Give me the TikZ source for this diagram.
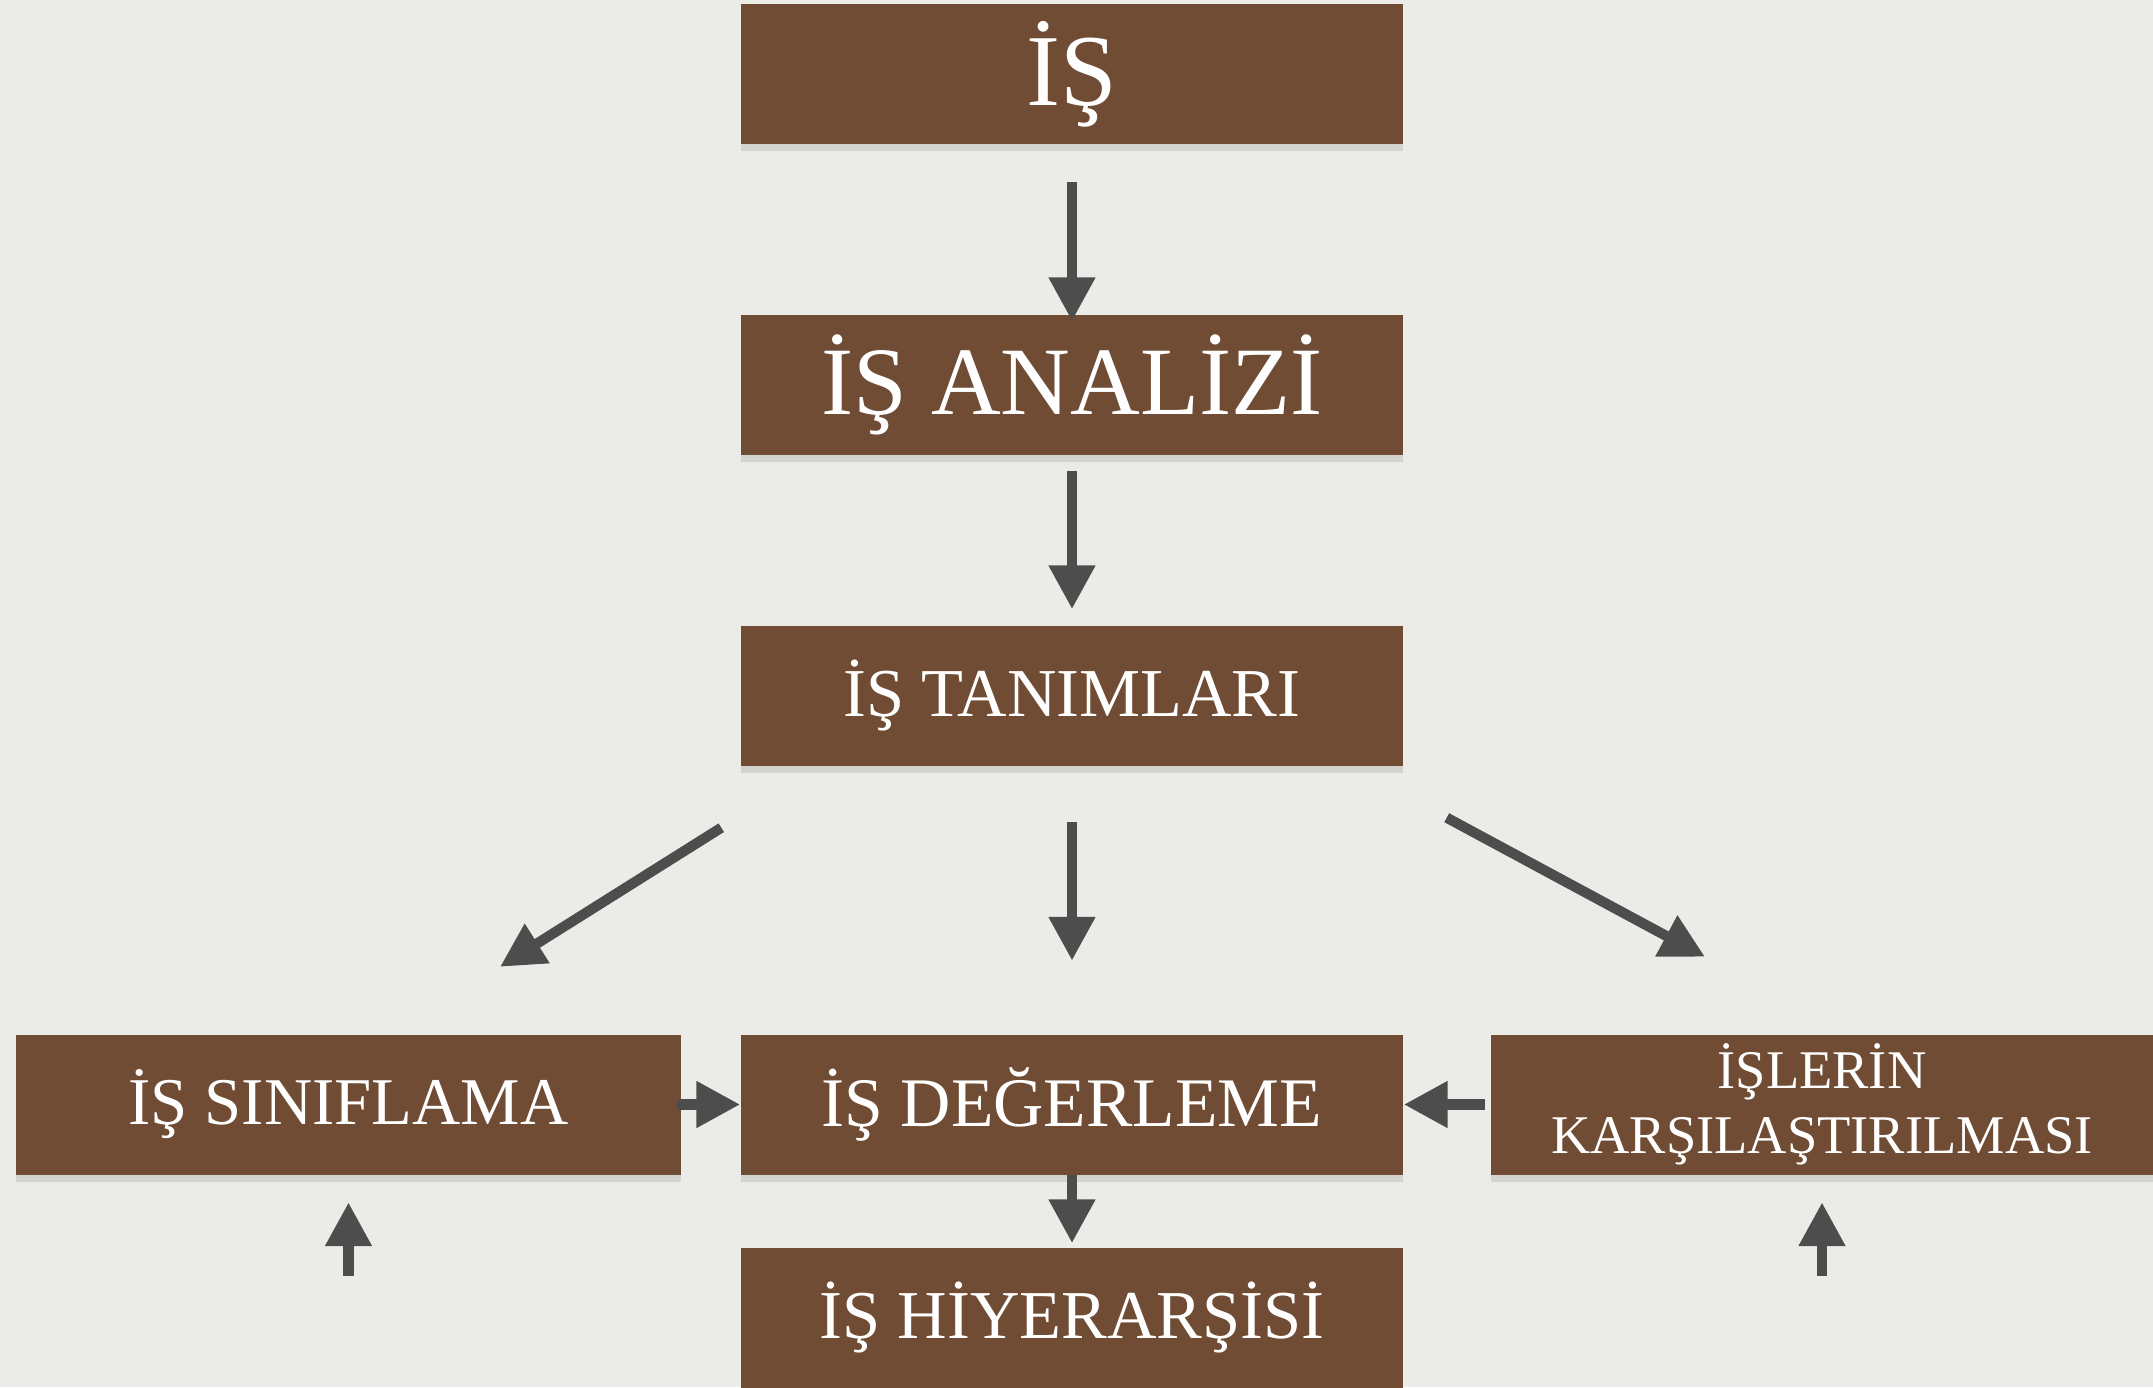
\documentclass[tikz,border=0pt]{standalone}
\usepackage{fontspec}
\setmainfont{Liberation Serif}
\usetikzlibrary{arrows.meta,shadows,calc}
\definecolor{kahve}{HTML}{704C34}
\definecolor{zemin}{HTML}{EBEBE7}
\definecolor{okgri}{HTML}{4D4D4D}
\begin{document}
\begin{tikzpicture}[box/.style={shape=rectangle,fill=kahve,text=white,
	minimum width=6.62cm,minimum height=1.4cm,inner sep=0pt,align=center,
	drop shadow={shadow xshift=0pt,shadow yshift=-0.07cm,opacity=0.22}},
	arr/.style={draw=okgri,line width=3.1pt,-{Triangle[length=0.44cm,width=0.44cm]}}]
		\fill[zemin] (0,0) rectangle (21.53,13.87);
		\useasboundingbox (0,0) rectangle (21.53,13.87);
		\clip (0,0) rectangle (21.53,13.87);
		\node[box,font=\fontsize{29}{32}\selectfont] (is) at (10.72,13.13) {İŞ};
		\node[box,font=\fontsize{27.5}{32}\selectfont] (analiz) at (10.72,10.02) {İŞ ANALİZİ};
		\node[box,font=\fontsize{19.5}{24}\selectfont] (tanim) at (10.72,6.91) {İŞ TANIMLARI};
		\node[box,font=\fontsize{19}{24}\selectfont,minimum width=6.65cm] (sinif) at (3.485,2.825) {İŞ SINIFLAMA};
		\node[box,font=\fontsize{19.8}{24}\selectfont] (deger) at (10.72,2.825) {İŞ DEĞERLEME};
		\node[box,font=\fontsize{15.5}{18.5}\selectfont] (karsi) at (18.22,2.825) {İŞLERİN\\KARŞILAŞTIRILMASI};
		\node[box,font=\fontsize{19.5}{24}\selectfont] (hiyer) at (10.72,0.69) {İŞ HİYERARŞİSİ};
		\coordinate (sinifalt) at ($(sinif.south)+(0,-1.01)$);
		\coordinate (karsialt) at ($(karsi.south)+(0,-1.01)$);
		\draw[arr,shorten <=0.37cm,shorten >=-0.07cm] (is) -- (analiz);
		\draw[arr,shorten <=0.15cm,shorten >=0.16cm] (analiz) -- (tanim);
		\draw[arr,shorten <=0.55cm,shorten >=0.73cm] (tanim) -- (deger);
		\draw[arr,line width=2.9pt] ($(tanim.south west)+(-0.19,-0.61)$) -- ($(sinif.north)+(1.515,0.67)$);
		\draw[arr,line width=2.9pt] ($(tanim.south east)+(0.43,-0.51)$) -- ($(karsi.north)+(-1.17,0.77)$);
		\draw[arr,shorten <=-0.05cm] (sinif) -- (deger);
		\draw[arr,shorten <=0.05cm] (karsi) -- (deger);
		\draw[arr,shorten >=0.04cm] (deger) -- (hiyer);
		\draw[arr,shorten >=0.27cm] (sinifalt) -- (sinif);
		\draw[arr,shorten >=0.27cm] (karsialt) -- (karsi);
	\end{tikzpicture}
\end{document}
